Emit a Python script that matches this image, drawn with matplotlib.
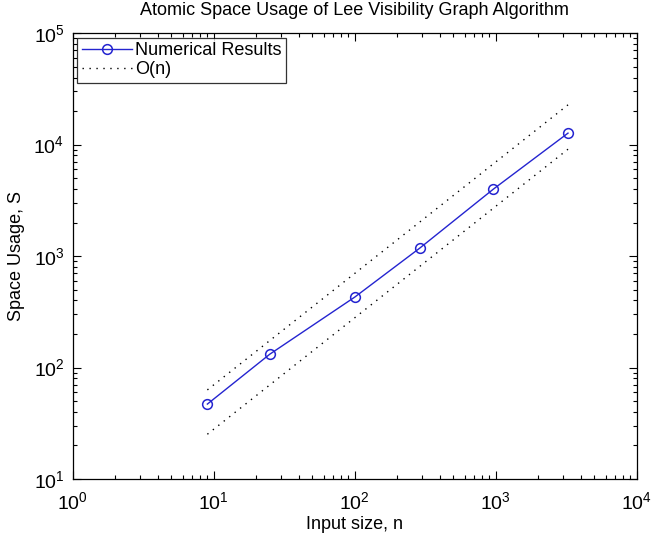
import matplotlib
matplotlib.use('Agg')
import matplotlib.pyplot as plt

# Datos
tamanos = [9, 25, 100, 289, 961, 3249]
espacio = [47, 132, 429, 1180, 3990, 12680]
# Cotas O(n): c * n
c_superior = 7.0
c_inferior = 2.8

plt.rcParams['font.family'] = ['Liberation Sans', 'DejaVu Sans']

fig = plt.figure(figsize=(6.62, 5.35), dpi=100)
ax = fig.add_axes([0.110, 0.1047, 0.852, 0.8333])

azul = '#2424d0'
ax.loglog(tamanos, espacio, '-o', color=azul, linewidth=1, markersize=7,
          markerfacecolor='none', markeredgecolor=azul, markeredgewidth=1.1,
          label='Numerical Results')
cota_sup = [c_superior * n for n in tamanos]
cota_inf = [c_inferior * n for n in tamanos]
ax.loglog(tamanos, cota_sup, color='black', linewidth=1, dashes=(1, 4), label='O(n)')
ax.loglog(tamanos, cota_inf, color='black', linewidth=1, dashes=(1, 4))

ax.set_xlim(1, 1e4)
ax.set_ylim(10, 1e5)

ax.tick_params(which='both', direction='in', top=True, right=True, labelsize=14, width=0.8)
ax.tick_params(which='major', length=6)
ax.tick_params(which='minor', length=3)
ax.tick_params(axis='x', which='both', pad=9)
ax.tick_params(axis='y', which='both', pad=6)
for lado in ax.spines.values():
    lado.set_linewidth(0.9)

ax.set_title('Atomic Space Usage of Lee Visibility Graph Algorithm', fontsize=13, pad=13)
ax.set_xlabel('Input size, n', fontsize=13, labelpad=2)
ax.set_ylabel('Space Usage, S', fontsize=13, labelpad=6)

leyenda = ax.legend(loc='upper left', fontsize=13, frameon=True, fancybox=False,
                    edgecolor='black', borderaxespad=0.25, handlelength=2.8,
                    handletextpad=0.15, labelspacing=0.1, borderpad=0.25)
leyenda.get_frame().set_linewidth(0.9)

fig.savefig('out.png', dpi=100)
